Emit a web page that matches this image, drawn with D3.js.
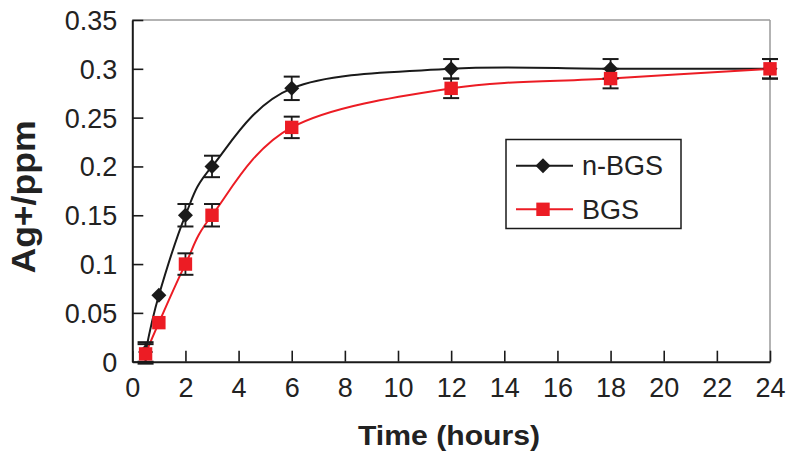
<!DOCTYPE html>
<html>
<head>
<meta charset="utf-8">
<script src="https://cdn.jsdelivr.net/npm/d3@7"></script>
<style>
  html, body { margin: 0; padding: 0; background: #fff; }
  svg { display: block; font-family: "Liberation Sans", Arial, Helvetica, sans-serif; }
</style>
</head>
<body>
<svg id="chart" width="796" height="464"></svg>
<script>
// ---- data ----
const times = [0.5, 1, 2, 3, 6, 12, 18, 24];
const nbgsValues = [0.01, 0.068, 0.15, 0.2, 0.28, 0.3, 0.3, 0.3];
const nbgsErrors = [0.01, 0, 0.0115, 0.011, 0.012, 0.01, 0.01, 0.01];
const bgsValues = [0.008, 0.04, 0.1, 0.15, 0.24, 0.28, 0.29, 0.3];
const bgsErrors = [0.01, 0, 0.011, 0.0115, 0.011, 0.01, 0.01, 0.01];
const xTicks = [0, 2, 4, 6, 8, 10, 12, 14, 16, 18, 20, 22, 24];
const yTicks = [0, 0.05, 0.1, 0.15, 0.2, 0.25, 0.3, 0.35];
const seriesNames = ["n-BGS", "BGS"];

(function () {
const svg = d3.select("#chart");
const pLeft = 132.3, pRight = 770, pTop = 20, pBottom = 361.7;
const x = d3.scaleLinear().domain([0, 24]).range([pLeft, pRight]);
const y = d3.scaleLinear().domain([0, 0.35]).range([pBottom, pTop]);

const RED = "#ec1c24", BLACK = "#1a1a1a";

// top / right frame (gray)
svg.append("line").attr("x1", pLeft).attr("x2", pRight).attr("y1", pTop).attr("y2", pTop)
  .attr("stroke", "#9a9a9a").attr("stroke-width", 1.5);
svg.append("line").attr("x1", pRight).attr("x2", pRight).attr("y1", pTop).attr("y2", pBottom)
  .attr("stroke", "#9a9a9a").attr("stroke-width", 1.5);

// axes with inward ticks
const xAxis = d3.axisBottom(x).tickValues(xTicks).tickSizeInner(-11).tickSizeOuter(0).tickFormat(d3.format("d"));
const gx = svg.append("g").attr("transform", `translate(0,${pBottom})`).call(xAxis);
gx.select(".domain").attr("stroke", BLACK).attr("stroke-width", 2);
gx.selectAll(".tick line").attr("stroke", BLACK).attr("stroke-width", 1.6);
gx.selectAll(".tick text").attr("font-size", 27).attr("fill", "#222")
  .attr("y", 35).attr("dy", 0).attr("font-family", "Liberation Sans, Arial, sans-serif");

const yAxis = d3.axisLeft(y).tickValues(yTicks).tickSizeInner(-11).tickSizeOuter(0)
  .tickFormat(d => d === 0 ? "0" : String(+d.toFixed(2)));
const gy = svg.append("g").attr("transform", `translate(${pLeft},0)`).call(yAxis);
gy.select(".domain").attr("stroke", BLACK).attr("stroke-width", 2);
gy.selectAll(".tick line").attr("stroke", BLACK).attr("stroke-width", 1.6);
gy.selectAll(".tick text").attr("font-size", 27).attr("fill", "#222")
  .attr("x", -15).attr("dy", "0.35em").attr("font-family", "Liberation Sans, Arial, sans-serif");

// axis titles
svg.append("text").attr("x", 449).attr("y", 445).attr("text-anchor", "middle")
  .attr("font-size", 27).attr("font-weight", "bold").attr("fill", "#222")
  .attr("textLength", 182).attr("lengthAdjust", "spacingAndGlyphs")
  .text("Time (hours)");
svg.append("text").attr("transform", "translate(35,197) rotate(-90)").attr("text-anchor", "middle")
  .attr("font-size", 34).attr("font-weight", "bold").attr("fill", "#222")
  .attr("textLength", 153).attr("lengthAdjust", "spacingAndGlyphs")
  .text("Ag+/ppm");

// series
const series = [
  { name: seriesNames[0], vals: nbgsValues, errs: nbgsErrors, color: BLACK, shape: "diamond" },
  { name: seriesNames[1], vals: bgsValues, errs: bgsErrors, color: RED, shape: "square" }
];
const line = d3.line().x(d => x(d.t)).y(d => y(d.v)).curve(d3.curveCardinal.tension(0));

series.forEach(s => {
  const pts = times.map((t, i) => ({ t, v: s.vals[i] }));
  svg.append("path").datum(pts).attr("d", line).attr("fill", "none")
    .attr("stroke", s.color).attr("stroke-width", 2);
});

function drawMarker(g, shape, color, cx, cy) {
  if (shape === "diamond") {
    const r = 7.5;
    g.append("path").attr("d", `M${cx},${cy - r}L${cx + r},${cy}L${cx},${cy + r}L${cx - r},${cy}Z`)
      .attr("fill", color);
  } else {
    const h = 6.7;
    g.append("rect").attr("x", cx - h).attr("y", cy - h).attr("width", 2 * h).attr("height", 2 * h)
      .attr("fill", color);
  }
}

series.forEach(s => {
  const g = svg.append("g");
  times.forEach((t, i) => {
    const v = s.vals[i], e = s.errs[i];
    const cx = x(t);
    if (e > 0) {
      const y1 = y(v + e), y2 = y(v - e);
      g.append("line").attr("x1", cx).attr("x2", cx).attr("y1", y1).attr("y2", y2)
        .attr("stroke", BLACK).attr("stroke-width", 1.8);
      [y1, y2].forEach(yy => g.append("line").attr("x1", cx - 8).attr("x2", cx + 8)
        .attr("y1", yy).attr("y2", yy).attr("stroke", BLACK).attr("stroke-width", 2));
    }
  });
  times.forEach((t, i) => drawMarker(g, s.shape, s.color, x(t), y(s.vals[i])));
});

// legend
const lg = svg.append("g");
lg.append("rect").attr("x", 506).attr("y", 139.5).attr("width", 175).attr("height", 89)
  .attr("fill", "#fff").attr("stroke", BLACK).attr("stroke-width", 1.5);
series.forEach((s, i) => {
  const yy = 165.7 + i * 43.6;
  lg.append("line").attr("x1", 516).attr("x2", 573).attr("y1", yy).attr("y2", yy)
    .attr("stroke", s.color).attr("stroke-width", 2);
  drawMarker(lg, s.shape, s.color, 543, yy);
  lg.append("text").attr("x", 582).attr("y", yy).attr("dy", "0.36em")
    .attr("font-size", 27).attr("fill", "#222").text(s.name);
});
})();
</script>
</body>
</html>
